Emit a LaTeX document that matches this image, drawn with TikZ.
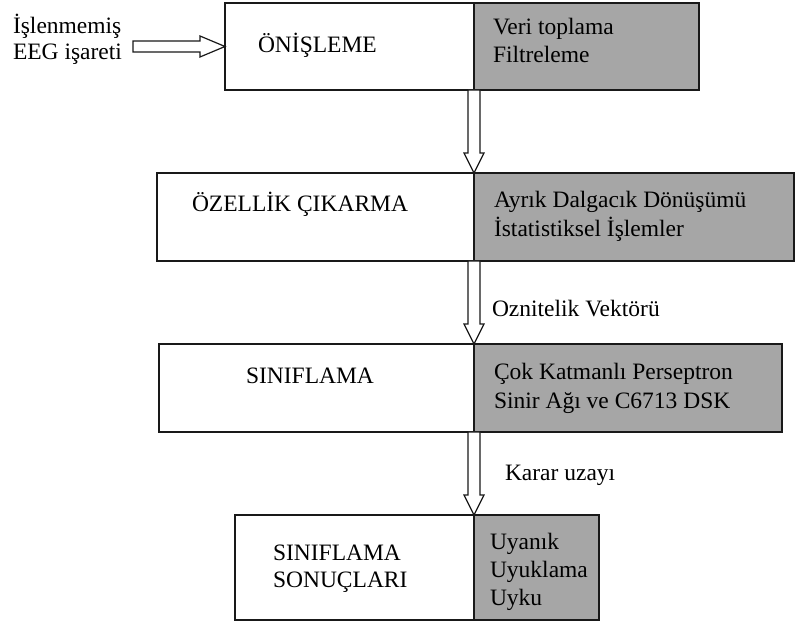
\documentclass[tikz,border=0pt]{standalone}
\usepackage{fontspec}
\setmainfont{Liberation Serif}
\usetikzlibrary{calc}
\definecolor{infogray}{RGB}{166,166,166}
\definecolor{edge}{RGB}{25,25,25}
\tikzset{
  stage/.style={draw=edge, line width=1.5pt, fill=white, inner sep=0pt, outer sep=0pt, anchor=north west},
  info/.style={stage, fill=infogray},
  txt/.style={anchor=base west, inner sep=0pt, outer sep=0pt, font=\fontsize{23.5}{28}\selectfont, text=black},
  hollow/.style={draw=edge, line width=1.2pt, fill=white, line join=miter},
}
% hollow block arrow pointing down, from the bottom of one box to the top of the next
\newcommand\hollowdown[2]{%
  \draw[hollow] let \p1=(#1), \p2=(#2) in
    (\x1-6pt,\y1) -- (\x1-6pt,\y2+20pt) -- (\x1-10pt,\y2+20pt) -- (\x1,\y2)
    -- (\x1+10pt,\y2+20pt) -- (\x1+6pt,\y2+20pt) -- (\x1+6pt,\y1) -- cycle;}
% hollow block arrow pointing right
\newcommand\hollowright[2]{%
  \draw[hollow] let \p1=(#1), \p2=(#2) in
    (\x1,\y2+5.5pt) -- (\x2-25pt,\y2+5.5pt) -- (\x2-25pt,\y2+10.5pt) -- (\x2,\y2)
    -- (\x2-25pt,\y2-10.5pt) -- (\x2-25pt,\y2-5.5pt) -- (\x1,\y2-5.5pt) -- cycle;}
\begin{document}
\begin{tikzpicture}[x=1pt,y=-1pt]
\useasboundingbox (0,0) rectangle (796,628);

% stage boxes: name on the left, details on grey
\node[stage, minimum width=249pt, minimum height=87pt] (pre) at (225,3) {};
\node[info, minimum width=225pt, minimum height=87pt] (preinfo) at (474,3) {};
\node[stage, minimum width=317pt, minimum height=88pt] (feat) at (157,173) {};
\node[info, minimum width=320pt, minimum height=88pt] (featinfo) at (474,173) {};
\node[stage, minimum width=315pt, minimum height=88pt] (cls) at (159,344) {};
\node[info, minimum width=308pt, minimum height=88pt] (clsinfo) at (474,344) {};
\node[stage, minimum width=239pt, minimum height=105pt] (res) at (235,515) {};
\node[info, minimum width=125pt, minimum height=105pt] (resinfo) at (474,515) {};

% input
\node[txt] (rawa) at (13,33.5) {İşlenmemiş};
\node[txt] (rawb) at (13,60) {EEG işareti};
\coordinate (rawin) at (133,47);
\hollowright{rawin}{pre.west}

% connectors between stages
\hollowdown{pre.south east}{feat.north east}
\hollowdown{feat.south east}{cls.north east}
\hollowdown{cls.south east}{res.north east}

% stage texts
\node[txt] (pret) at (258,53) {ÖNİŞLEME};
\node[txt] (prea) at (493,35) {Veri toplama};
\node[txt] (preb) at (493,63) {Filtreleme};

\node[txt] (featt) at (192,212) {ÖZELLİK ÇIKARMA};
\node[txt] (feata) at (494,208) {Ayrık Dalgacık Dönüşümü};
\node[txt] (featb) at (494,237) {İstatistiksel İşlemler};

\node[txt] (oznit) at (492,317) {Oznitelik Vektörü};

\node[txt] (clst) at (246,384) {SINIFLAMA};
\node[txt] (clsa) at (494,380) {Çok Katmanlı Perseptron};
\node[txt] (clsb) at (494,409) {Sinir Ağı ve C6713 DSK};

\node[txt] (karar) at (505,481) {Karar uzayı};

\node[txt] (resta) at (273,560) {SINIFLAMA};
\node[txt] (restb) at (273,587) {SONUÇLARI};
\node[txt] (resa) at (490,549) {Uyanık};
\node[txt] (resb) at (490,577) {Uyuklama};
\node[txt] (resc) at (490,605) {Uyku};
\end{tikzpicture}
\end{document}
